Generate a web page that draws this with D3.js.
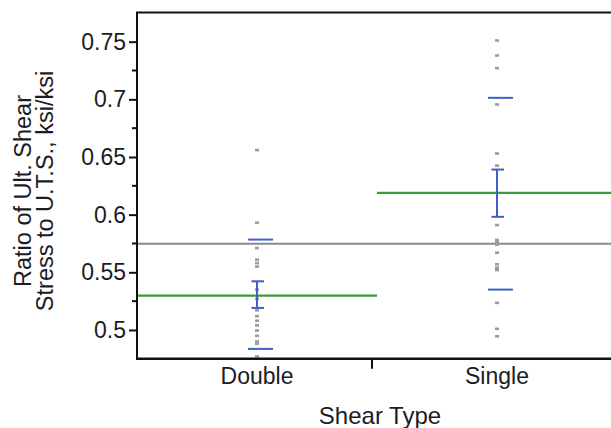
<!DOCTYPE html>
<html>
<head>
<meta charset="utf-8">
<script src="https://cdn.jsdelivr.net/npm/d3@7"></script>
<style>
  html, body { margin: 0; padding: 0; background: #fff; }
  svg { display: block; }
  text { font-family: Arial, "Liberation Sans", sans-serif; fill: #1c1c24; }
</style>
</head>
<body>
<svg id="chart" width="611" height="428"></svg>
<script>
// Groups on the x axis
const categories = ["Double", "Single"];

// Individual observations (ratio of ultimate shear stress to UTS)
const doubleValues = [0.656, 0.593, 0.571, 0.561, 0.558, 0.555, 0.535, 0.527,
                      0.517, 0.512, 0.508, 0.504, 0.4995, 0.495, 0.490, 0.488, 0.477];
const singleValues = [0.751, 0.738, 0.727, 0.6955, 0.653, 0.6425, 0.591, 0.578,
                      0.576, 0.574, 0.567, 0.557, 0.554, 0.552, 0.5235, 0.501, 0.4945];

// Group summaries: means, mean ± std dev, and confidence intervals of the mean
const groupMeans = [0.5298, 0.6189];
const sdLower = [0.4836, 0.535];
const sdUpper = [0.5784, 0.7013];
const ciLower = [0.5191, 0.5981];
const ciUpper = [0.5422, 0.6391];
const grandMean = 0.5748;

// Axis ticks
const yMajorTicks = [0.5, 0.55, 0.6, 0.65, 0.7, 0.75];
const yMinorTicks = [0.525, 0.575, 0.625, 0.675, 0.725];
const yTickLabels = ["0.5", "0.55", "0.6", "0.65", "0.7", "0.75"];

const xTitle = "Shear Type";
const yTitleLines = ["Ratio of Ult. Shear", "Stress to U.T.S., ksi/ksi"];

// ---- layout ----
const W = 611, H = 428;
const plot = { left: 137, top: 12.5, right: 617, bottom: 358.8 };

const svg = d3.select("#chart");

const x = d3.scaleBand().domain(categories).range([plot.left, plot.right]);
const y = d3.scaleLinear().domain([0.475, 0.7753]).range([plot.bottom, plot.top]);

const blue = "#3f5fc8";
const green = "#3a9a3a";

// overall mean line
svg.append("line")
  .attr("x1", plot.left).attr("x2", W)
  .attr("y1", y(grandMean)).attr("y2", y(grandMean))
  .attr("stroke", "#8a8a8a").attr("stroke-width", 2);

// group mean lines spanning each group's band
svg.append("g").selectAll("line")
  .data(categories)
  .join("line")
  .attr("x1", d => x(d))
  .attr("x2", d => x(d) + x.bandwidth())
  .attr("y1", (d, i) => y(groupMeans[i]))
  .attr("y2", (d, i) => y(groupMeans[i]))
  .attr("stroke", green).attr("stroke-width", 2.2);

// observation points
const points = [];
doubleValues.forEach(v => points.push({ cat: "Double", v }));
singleValues.forEach(v => points.push({ cat: "Single", v }));

const cx = d => x(d) + x.bandwidth() / 2;

svg.append("g").selectAll("rect")
  .data(points)
  .join("rect")
  .attr("x", d => cx(d.cat) - 2)
  .attr("y", d => y(d.v) - 1.3)
  .attr("width", 4).attr("height", 2.6)
  .attr("fill", "#9c9c9c");

// confidence-interval error bars
const err = svg.append("g").attr("stroke", blue).attr("stroke-width", 2);
categories.forEach((c, i) => {
  const xc = cx(c);
  err.append("line")
    .attr("x1", xc).attr("x2", xc)
    .attr("y1", y(ciLower[i])).attr("y2", y(ciUpper[i]));
  [ciLower[i], ciUpper[i]].forEach(v => {
    err.append("line")
      .attr("x1", xc - 5.5).attr("x2", xc + 7)
      .attr("y1", y(v)).attr("y2", y(v));
  });
  // standard deviation lines
  [sdLower[i], sdUpper[i]].forEach(v => {
    err.append("line")
      .attr("x1", xc - 9).attr("x2", xc + 16)
      .attr("y1", y(v)).attr("y2", y(v));
  });
});

// ---- axes ----
const axisColor = "#111";

// top frame line
svg.append("line")
  .attr("x1", plot.left - 1).attr("x2", W)
  .attr("y1", plot.top).attr("y2", plot.top)
  .attr("stroke", axisColor).attr("stroke-width", 2);

// y axis
const yAxis = d3.axisLeft(y)
  .tickValues(yMajorTicks)
  .tickSize(8)
  .tickPadding(3)
  .tickFormat((d, i) => yTickLabels[i]);

const gy = svg.append("g")
  .attr("transform", `translate(${plot.left},0)`)
  .call(yAxis);
gy.select(".domain").attr("stroke", axisColor).attr("stroke-width", 2)
  .attr("d", `M0,${plot.top}V${plot.bottom}`);
gy.selectAll(".tick line").attr("stroke", axisColor).attr("stroke-width", 2);
gy.selectAll(".tick text")
  .style("font-size", "23px")
  .attr("fill", "#1c1c24");

gy.selectAll(".minor")
  .data(yMinorTicks)
  .join("line")
  .attr("class", "minor")
  .attr("x1", -5).attr("x2", 0)
  .attr("y1", d => y(d)).attr("y2", d => y(d))
  .attr("stroke", axisColor).attr("stroke-width", 2);

// x axis
const xAxis = d3.axisBottom(x).tickSize(0).tickPadding(9);
const gx = svg.append("g")
  .attr("transform", `translate(0,${plot.bottom})`)
  .call(xAxis);
gx.select(".domain").attr("stroke", axisColor).attr("stroke-width", 2.5)
  .attr("d", `M${plot.left - 1},0H${W}`);
gx.selectAll(".tick text")
  .style("font-size", "23px")
  .attr("fill", "#1c1c24");

// divider tick between groups
gx.append("line")
  .attr("x1", x("Single") - 5).attr("x2", x("Single") - 5)
  .attr("y1", 0).attr("y2", 10)
  .attr("stroke", axisColor).attr("stroke-width", 2);

// axis titles
svg.append("text")
  .attr("x", 380).attr("y", 424)
  .attr("text-anchor", "middle")
  .style("font-size", "24px")
  .text(xTitle);

const yt = svg.append("text")
  .attr("transform", `translate(0,191) rotate(-90)`)
  .attr("text-anchor", "middle")
  .style("font-size", "23.5px");
yt.selectAll("tspan")
  .data(yTitleLines)
  .join("tspan")
  .attr("x", 0)
  .attr("y", (d, i) => 31 + i * 22)
  .text(d => d);
</script>
</body>
</html>
